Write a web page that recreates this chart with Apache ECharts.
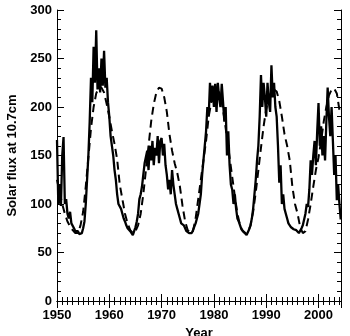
<!DOCTYPE html>
<html>
<head>
<meta charset="utf-8">
<script src="https://cdn.jsdelivr.net/npm/echarts@6/dist/echarts.min.js"></script>
<style>
    html,body{margin:0;padding:0;background:#fff;}
    #main{width:350px;height:336px;}
</style>
</head>
<body>
<div id="main"></div>
<script>
    // observed 10.7cm flux, quarterly samples from 1950.0
    var obs_start = 1950;
    var obs_flux = [
        166,100,120,98,  150,169,100,105,  90,85,92,80,  78,75,72,70,
        72,69,68,70,  75,82,100,125,  150,185,230,205,  262,225,279,218,
        240,215,250,222,  258,220,230,205,  190,170,160,150,  135,125,110,100,
        102,95,90,85,  82,78,75,73,  72,70,68,72,  76,82,90,105,
        110,118,130,142,  140,155,135,160,  145,165,140,158,  150,170,142,165,
        168,150,162,140,  130,115,125,110,  135,120,110,100,  95,90,85,80,
        82,78,76,72,  74,70,72,70,  73,75,80,85,  90,100,110,130,
        145,160,175,200,  190,225,205,222,  200,224,195,225,  210,200,224,205,
        185,200,150,175,  140,120,115,100,  110,95,85,82,  78,74,72,71,
        72,68,70,74,  78,85,95,110,  125,145,160,190,  233,200,225,210,
        190,225,205,195,  243,210,225,200,  190,160,122,140,  100,110,95,90,
        85,80,78,76,  75,74,72,73,  72,70,72,75,  78,80,90,100,
        97,115,145,130,  150,165,140,175,  204,160,180,150,  170,145,185,220,
        190,170,200,165,  130,150,104,120,  100,84
    ];
    // smooth model curve, half-year samples
    var model_years = [];
    var model_flux = [
        125,112,100,90,82,77,73,70,70,78,92,118,148,178,200,214,220,220,215,203,
        190,175,162,146,120,105,90,80,73,70,72,78,90,110,135,160,185,203,215,220,
        219,210,195,172,155,142,132,118,98,82,73,70,72,85,105,125,145,165,190,205,
        215,218,215,205,188,168,148,128,108,90,78,72,70,71,78,92,112,135,158,180,
        198,210,216,218,216,206,190,172,160,145,118,100,90,76,70,72,84,100,118,135,
        148,165,185,200,212,218,219,214,197
    ];
    for(var i=0;i<model_flux.length;i++){
        model_years.push(1950+i*0.5);
    }
    var x_min = 1950, x_max = 2004.3;

    var obs_data = [], model_data = [];
    for(var i=0;i<obs_flux.length;i++){
        obs_data.push([obs_start+i*0.25, obs_flux[i]]);
    }
    for(var i=0;i<model_flux.length;i++){
        model_data.push([model_years[i], model_flux[i]]);
    }

    var font = '"Liberation Sans", Arial, sans-serif';
    var axis_line = {show:true, lineStyle:{color:'#000', width:1}};
    var tick = {show:true, inside:true, length:7, lineStyle:{color:'#000'}};
    var minor = {show:true, length:4, lineStyle:{color:'#000'}};
    var plain = function(v){ return String(v); };

    function x_axis(pos, labels){
        return {
            type:'value', position:pos, min:x_min, max:x_max, interval:10,
            axisLine:axis_line, axisTick:tick,
            minorTick:Object.assign({splitNumber:10}, minor),
            splitLine:{show:false},
            axisLabel:{show:labels, showMaxLabel:false, formatter:plain, color:'#000', fontFamily:font,
                fontWeight:'bold', fontSize:13, margin:8},
            name:labels?'Year':'', nameLocation:'middle', nameGap:25,
            nameTextStyle:{color:'#000', fontFamily:font, fontWeight:'bold', fontSize:13}
        };
    }
    function y_axis(pos, labels){
        return {
            type:'value', position:pos, min:0, max:300, interval:50,
            axisLine:axis_line, axisTick:tick,
            minorTick:Object.assign({splitNumber:5}, minor),
            splitLine:{show:false},
            axisLabel:{show:labels, formatter:plain, color:'#000', fontFamily:font,
                fontWeight:'bold', fontSize:13, margin:5},
            name:labels?'Solar flux at 10.7cm':'', nameLocation:'middle', nameGap:36,
            nameTextStyle:{color:'#000', fontFamily:font, fontWeight:'bold', fontSize:13}
        };
    }

    var chart = echarts.init(document.getElementById('main'));
    chart.setOption({
        animation:false,
        grid:{left:57, right:9, top:10, bottom:35, outerBoundsMode:'none'},
        xAxis:[x_axis('bottom', true), x_axis('top', false)],
        yAxis:[y_axis('left', true), y_axis('right', false)],
        series:[
            {
                type:'line', data:model_data, showSymbol:false, symbol:'none',
                lineStyle:{color:'#000', width:2, type:[8,5]}
            },
            {
                type:'line', data:obs_data, showSymbol:false, symbol:'none',
                lineStyle:{color:'#000', width:2.3}
            }
        ]
    });
</script>
</body>
</html>
